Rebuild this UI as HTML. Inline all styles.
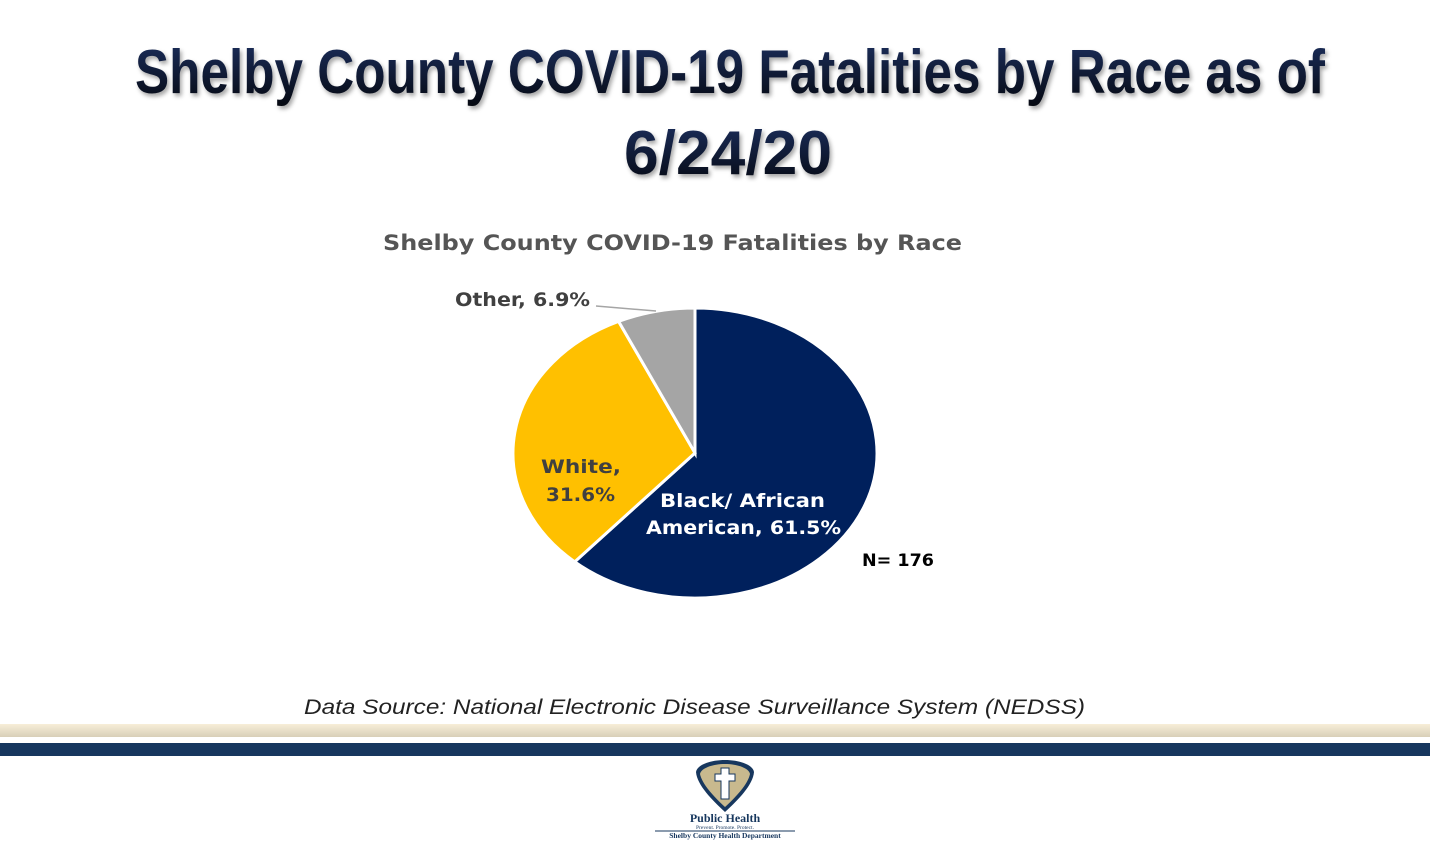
<!DOCTYPE html>
<html><head><meta charset="utf-8"><style>html,body{margin:0;padding:0;background:#fff}svg{display:block}</style></head>
<body>
<svg width="1430" height="844" viewBox="0 0 1430 844" xmlns="http://www.w3.org/2000/svg">
<defs>
<linearGradient id="tg" x1="0" y1="0" x2="0" y2="1"><stop offset="0" stop-color="#1c2f5e"/><stop offset="1" stop-color="#050810"/></linearGradient>
<linearGradient id="bg" x1="0" y1="0" x2="0" y2="1"><stop offset="0" stop-color="#f7eed8"/><stop offset="1" stop-color="#d8cfb8"/></linearGradient>
</defs>
<g font-family="'Liberation Sans Narrow','Liberation Sans',sans-serif" font-weight="bold" font-size="62" fill="url(#tg)" style="filter:drop-shadow(2px 3px 2px rgba(0,0,0,0.35))">
<text x="135" y="93" textLength="1190" lengthAdjust="spacingAndGlyphs">Shelby County COVID-19 Fatalities by Race as of</text>
<text x="624" y="174" textLength="208" lengthAdjust="spacingAndGlyphs">6/24/20</text>
</g>
<text x="383" y="250" font-family="'DejaVu Sans',sans-serif" font-weight="bold" font-size="21" fill="#555" textLength="579" lengthAdjust="spacingAndGlyphs">Shelby County COVID-19 Fatalities by Race</text>
<g stroke="#fff" stroke-width="3">
<path d="M695,453 L695,308 A182,145 0 1 1 574.7,561.8 Z" fill="#00205c"/>
<path d="M695,453 L574.7,561.8 A182,145 0 0 1 618.6,321.4 Z" fill="#ffc000"/>
<path d="M695,453 L618.6,321.4 A182,145 0 0 1 695,308 Z" fill="#a5a5a5"/>
</g>
<line x1="596" y1="306" x2="656" y2="311" stroke="#a5a5a5" stroke-width="1.5"/>
<g font-family="'DejaVu Sans',sans-serif" font-weight="bold" font-size="19">
<text x="455" y="306" fill="#404040" textLength="135" lengthAdjust="spacingAndGlyphs">Other, 6.9%</text>
<text x="541" y="473" fill="#404040" textLength="80" lengthAdjust="spacingAndGlyphs">White,</text>
<text x="546" y="501" fill="#404040" textLength="69" lengthAdjust="spacingAndGlyphs">31.6%</text>
<text x="660" y="507" fill="#fff" textLength="165" lengthAdjust="spacingAndGlyphs">Black/ African</text>
<text x="646" y="534" fill="#fff" textLength="195" lengthAdjust="spacingAndGlyphs">American, 61.5%</text>
<text x="862" y="566" fill="#000" font-size="17" textLength="72" lengthAdjust="spacingAndGlyphs">N= 176</text>
</g>
<text x="304" y="714" font-family="'Liberation Sans',sans-serif" font-style="italic" font-size="21" fill="#222" textLength="781" lengthAdjust="spacingAndGlyphs">Data Source: National Electronic Disease Surveillance System (NEDSS)</text>
<rect x="0" y="724" width="1430" height="13" fill="url(#bg)"/>
<rect x="0" y="743" width="1430" height="13" fill="#17375e"/>
<path d="M725,760 C710,760 697,765 696,772 C697,785 712,800 725,812 C738,800 753,785 754,772 C753,765 740,760 725,760 Z" fill="#17375e"/>
<path d="M725,764 C713,764 701,768 700,774 C702,784 714,797 725,807 C736,797 748,784 750,774 C749,768 737,764 725,764 Z" fill="#c8b98e"/>
<path d="M721,768 h8 v6 h6 v7 h-6 v18 h-8 v-18 h-6 v-7 h6 Z" fill="#fff" stroke="#17375e" stroke-width="1"/>
<text x="725" y="822" text-anchor="middle" font-family="'Liberation Serif',serif" font-weight="bold" font-size="12" fill="#17375e">Public Health</text>
<text x="725" y="829" text-anchor="middle" font-family="'Liberation Serif',serif" font-size="5.5" fill="#17375e">Prevent. Promote. Protect.</text>
<line x1="655" y1="831" x2="795" y2="831" stroke="#17375e" stroke-width="1"/>
<text x="725" y="838" text-anchor="middle" font-family="'Liberation Serif',serif" font-weight="bold" font-size="7.5" fill="#17375e">Shelby County Health Department</text>
</svg>
</body></html>
